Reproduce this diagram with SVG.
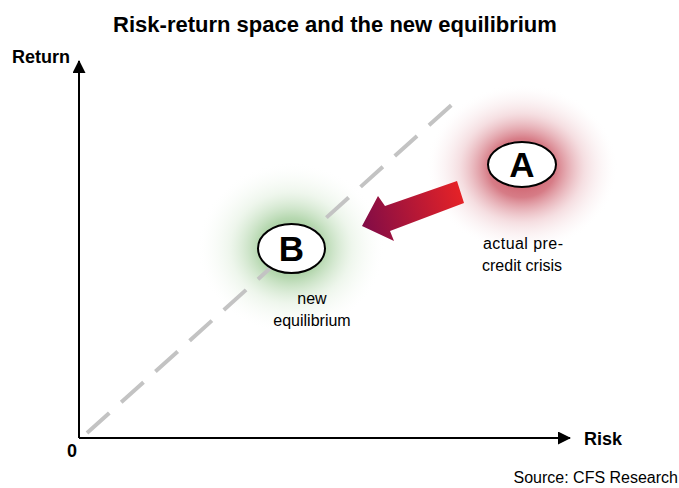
<svg xmlns="http://www.w3.org/2000/svg" width="679" height="488" viewBox="0 0 679 488">
<defs>
<radialGradient id="glowRed" cx="0.5" cy="0.5" r="0.5">
<stop offset="0" stop-color="#c03040" stop-opacity="0.9"/>
<stop offset="0.35" stop-color="#c9505e" stop-opacity="0.75"/>
<stop offset="0.65" stop-color="#e3a2aa" stop-opacity="0.35"/>
<stop offset="0.88" stop-color="#f4dde0" stop-opacity="0.15"/>
<stop offset="1" stop-color="#ffffff" stop-opacity="0"/>
</radialGradient>
<radialGradient id="glowGreen" cx="0.5" cy="0.5" r="0.5">
<stop offset="0" stop-color="#5da055" stop-opacity="0.85"/>
<stop offset="0.35" stop-color="#86be7c" stop-opacity="0.6"/>
<stop offset="0.65" stop-color="#c8e2c2" stop-opacity="0.3"/>
<stop offset="0.88" stop-color="#eef6ec" stop-opacity="0.15"/>
<stop offset="1" stop-color="#ffffff" stop-opacity="0"/>
</radialGradient>
<linearGradient id="arrowGrad" gradientUnits="userSpaceOnUse" x1="362" y1="220" x2="464" y2="192">
<stop offset="0" stop-color="#820c46"/>
<stop offset="1" stop-color="#e82326"/>
</linearGradient>
<marker id="axisHead" markerWidth="13" markerHeight="13" refX="12" refY="6.5" orient="auto" markerUnits="userSpaceOnUse">
<path d="M0,0 L13,6.5 L0,13 Z" fill="#000"/>
</marker>
<style>
.lbl{font-family:"Liberation Sans",Arial,sans-serif;fill:#000}
.bold{font-weight:bold}
.small{font-size:16px}
.letter{font-size:35px;font-weight:bold;text-anchor:middle}
.node{fill:#fff;stroke:#000;stroke-width:2}
</style>
</defs>
<rect width="679" height="488" fill="#fff"/>

<text class="lbl bold" x="335" y="32" font-size="22" text-anchor="middle">Risk-return space and the new equilibrium</text>

<g id="glows">
<ellipse cx="522" cy="168" rx="96" ry="84" fill="url(#glowRed)"/>
<ellipse cx="291" cy="248" rx="94" ry="86" fill="url(#glowGreen)"/>
</g>

<g id="connectors">
<line x1="87" y1="433" x2="456" y2="101" stroke="#c3c3c3" stroke-width="4" stroke-dasharray="30 16"/>
<line x1="79" y1="438" x2="79" y2="61" stroke="#000" stroke-width="2" marker-end="url(#axisHead)"/>
<line x1="79" y1="438" x2="570" y2="438" stroke="#000" stroke-width="2" marker-end="url(#axisHead)"/>
<polygon points="457,181 385,206 378,196 362,226 394,241 390,231 464,203" fill="url(#arrowGrad)"/>
</g>

<g id="axis-labels">
<text class="lbl bold" x="12" y="63" font-size="18">Return</text>
<text class="lbl bold" x="584" y="445" font-size="18">Risk</text>
<text class="lbl bold" x="67" y="457" font-size="18">0</text>
</g>

<g id="nodeA">
<ellipse class="node" cx="522" cy="164.5" rx="34" ry="22.5"/>
<text class="lbl letter" x="522" y="177">A</text>
<text class="lbl small" x="483" y="249" textLength="80" lengthAdjust="spacing">actual pre-</text>
<text class="lbl small" x="482" y="271">credit crisis</text>
</g>

<g id="nodeB">
<ellipse class="node" cx="291.5" cy="248.5" rx="33.5" ry="24.5"/>
<text class="lbl letter" x="291.5" y="261">B</text>
<text class="lbl small" x="312" y="304" text-anchor="middle">new</text>
<text class="lbl small" x="312" y="326" text-anchor="middle">equilibrium</text>
</g>

<text class="lbl small" x="678" y="483" text-anchor="end">Source: CFS Research</text>
</svg>
